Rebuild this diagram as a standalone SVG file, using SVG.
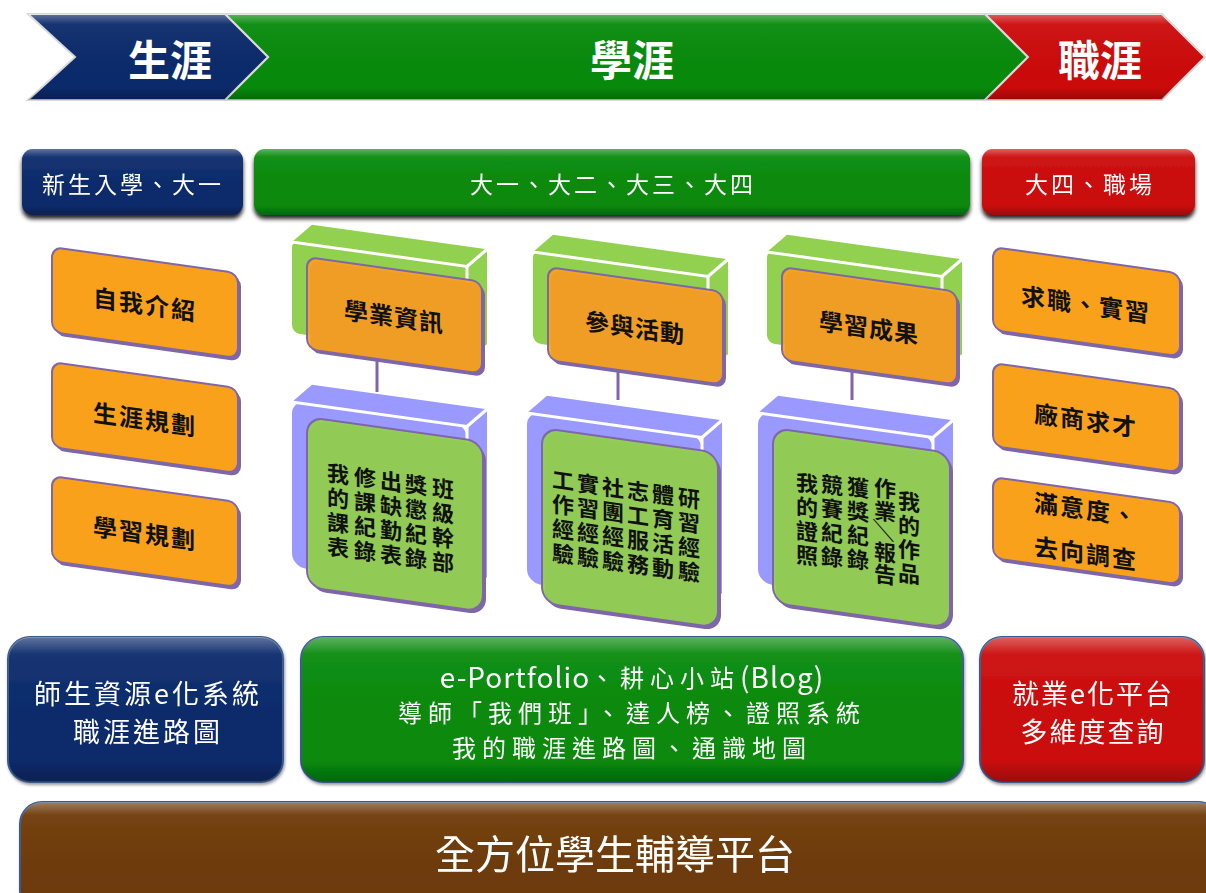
<svg xmlns="http://www.w3.org/2000/svg" width="1206" height="893" viewBox="0 0 1206 893">
<defs>
  <style>
    .t { font-family: "Noto Sans CJK TC", "Noto Sans", sans-serif; }
    .w { fill: #ffffff; }
    .k { fill: #111111; font-weight: bold; }
    .c { text-anchor: middle; dominant-baseline: central; }
    .orange { fill: #f9a11b; stroke: #7f66a8; stroke-width: 2; }
    .pur { fill: #7f66a8; }
    .lg { fill: #92d050; }
    .lb { fill: #9999ff; }
    .gfront { fill: #92d050; stroke: #7f66a8; stroke-width: 2; }
    .edge { fill: none; stroke: #ffffff; stroke-width: 3; }
    .conn { stroke: #7f66a8; stroke-width: 3; fill: none; }
  </style>
  <linearGradient id="gloss" x1="0" y1="0" x2="0" y2="1">
    <stop offset="0" stop-color="#ffffff" stop-opacity="0.35"/>
    <stop offset="0.12" stop-color="#ffffff" stop-opacity="0.05"/>
    <stop offset="0.85" stop-color="#000000" stop-opacity="0"/>
    <stop offset="1" stop-color="#000000" stop-opacity="0.25"/>
  </linearGradient>
  <filter id="sh" x="-10%" y="-20%" width="120%" height="160%">
    <feDropShadow dx="0" dy="4" stdDeviation="2" flood-color="#000" flood-opacity="0.85"/>
  </filter>
  <filter id="sh2" x="-10%" y="-20%" width="120%" height="150%">
    <feDropShadow dx="1" dy="2" stdDeviation="1.5" flood-color="#000" flood-opacity="0.4"/>
  </filter>
</defs>
<rect width="1206" height="893" fill="#ffffff"/>

<!-- Top chevrons -->
<g id="chev-xueya">
  <polygon points="225,14 985,14 1028,57 985,100 225,100 268,57" fill="#078a0b" stroke="#d9d9d9" stroke-width="2"/>
  <polygon points="225,14 985,14 1028,57 985,100 225,100 268,57" fill="url(#gloss)"/>
  <text x="632" y="57" class="t w c" font-size="42" font-weight="bold">學涯</text>
</g>
<g id="chev-shengya">
  <polygon points="28,14 225,14 268,57 225,100 28,100 75,57" fill="#0b2a6b" stroke="#d9d9d9" stroke-width="2"/>
  <polygon points="28,14 225,14 268,57 225,100 28,100 75,57" fill="url(#gloss)"/>
  <text x="170" y="57" class="t w c" font-size="42" font-weight="bold">生涯</text>
</g>
<g id="chev-zhiya">
  <polygon points="985,14 1162,14 1205,57 1162,100 985,100 1028,57" fill="#cc0a0a" stroke="#d9d9d9" stroke-width="2"/>
  <polygon points="985,14 1162,14 1205,57 1162,100 985,100 1028,57" fill="url(#gloss)"/>
  <text x="1100" y="57" class="t w c" font-size="42" font-weight="bold">職涯</text>
</g>

<!-- Row 2 -->
<g id="stage-1" filter="url(#sh)">
  <rect x="22" y="149" width="221" height="66" rx="11" fill="#0b2a6b"/>
  <rect x="22" y="149" width="221" height="66" rx="11" fill="url(#gloss)"/>
  <text x="133" y="183" class="t w c" font-size="23" letter-spacing="3">新生入學、大一</text>
</g>
<g id="stage-2" filter="url(#sh)">
  <rect x="254" y="149" width="716" height="66" rx="11" fill="#078a0b"/>
  <rect x="254" y="149" width="716" height="66" rx="11" fill="url(#gloss)"/>
  <text x="613" y="183" class="t w c" font-size="23" letter-spacing="3">大一、大二、大三、大四</text>
</g>
<g id="stage-3" filter="url(#sh)">
  <rect x="982" y="149" width="213" height="66" rx="11" fill="#cc0a0a"/>
  <rect x="982" y="149" width="213" height="66" rx="11" fill="url(#gloss)"/>
  <text x="1090" y="183" class="t w c" font-size="23" letter-spacing="3">大四、職場</text>
</g>

<!-- Connectors -->
<g id="connectors">
  <line class="conn" x1="377" y1="350" x2="377" y2="392"/>
  <line class="conn" x1="618" y1="360" x2="618" y2="400"/>
  <line class="conn" x1="852" y1="360" x2="852" y2="400"/>
</g>

<!-- Left orange boxes -->
<g id="n-ziwo" transform="translate(52,247) skewY(8)">
  <rect x="3" y="3" width="186" height="85" rx="10" class="pur"/>
  <rect x="0" y="0" width="186" height="85" rx="10" class="orange"/>
  <text x="93" y="43" class="t k c" font-size="24" letter-spacing="2">自我介紹</text>
</g>
<g id="n-shengya" transform="translate(52,362) skewY(8)">
  <rect x="3" y="3" width="186" height="85" rx="10" class="pur"/>
  <rect x="0" y="0" width="186" height="85" rx="10" class="orange"/>
  <text x="93" y="43" class="t k c" font-size="24" letter-spacing="2">生涯規劃</text>
</g>
<g id="n-xuexi" transform="translate(52,476) skewY(8)">
  <rect x="3" y="3" width="186" height="85" rx="10" class="pur"/>
  <rect x="0" y="0" width="186" height="85" rx="10" class="orange"/>
  <text x="93" y="43" class="t k c" font-size="24" letter-spacing="2">學習規劃</text>
</g>

<!-- Right orange boxes -->
<g id="n-qiuzhi" transform="translate(993,247) skewY(8)">
  <rect x="3" y="3" width="187" height="83" rx="10" class="pur"/>
  <rect x="0" y="0" width="187" height="83" rx="10" class="orange"/>
  <text x="93" y="43" class="t k c" font-size="24" letter-spacing="2">求職、實習</text>
</g>
<g id="n-changshang" transform="translate(993,363) skewY(8)">
  <rect x="3" y="3" width="187" height="83" rx="10" class="pur"/>
  <rect x="0" y="0" width="187" height="83" rx="10" class="orange"/>
  <text x="93" y="43" class="t k c" font-size="24" letter-spacing="2">廠商求才</text>
</g>
<g id="n-manyi" transform="translate(993,477) skewY(8)">
  <rect x="3" y="3" width="187" height="81" rx="10" class="pur"/>
  <rect x="0" y="0" width="187" height="81" rx="10" class="orange"/>
  <text x="93" y="18" class="t k c" font-size="24" letter-spacing="2">滿意度、</text>
  <text x="93" y="62" class="t k c" font-size="24" letter-spacing="2">去向調查</text>
</g>

<!-- Column 1: 學業資訊 -->
<g id="n-xueye" transform="translate(307,257) skewY(8)">
  <polygon points="-15,-13 5,-33 180,-33 160,-13" class="lg"/>
  <polygon points="160,-13 180,-33 180,62 160,78" class="lg"/>
  <rect x="-15" y="-15" width="175" height="93" rx="8" class="lg"/>
  <polyline points="-15,-13 160,-13 180,-33" class="edge"/>
  <line x1="160" y1="-13" x2="160" y2="20" class="edge"/>
  <rect x="3" y="3" width="175" height="92" rx="10" class="pur"/>
  <rect x="0" y="0" width="175" height="92" rx="10" class="orange" fill-opacity="0.93"/>
  <text x="87" y="46" class="t k c" font-size="24" letter-spacing="1">學業資訊</text>
</g>
<g id="n-xueye-items" transform="translate(307,417) skewY(8)">
  <polygon points="-15,-13 5,-33 180,-33 160,-13" class="lb"/>
  <polygon points="160,-13 180,-33 180,135 160,152" class="lb"/>
  <rect x="-15" y="-15" width="175" height="167" rx="14" class="lb"/>
  <polyline points="-15,-13 160,-13 180,-33" class="edge"/>
  <line x1="160" y1="-13" x2="160" y2="20" class="edge"/>
  <rect x="3" y="3" width="176" height="170" rx="16" class="pur"/>
  <rect x="0" y="0" width="176" height="170" rx="16" class="gfront" fill-opacity="0.95"/>
  <g class="t k c" font-size="22">
    <text><tspan x="31" y="51">我</tspan><tspan x="31" y="75.5">的</tspan><tspan x="31" y="100">課</tspan><tspan x="31" y="124.5">表</tspan></text>
    <text><tspan x="58" y="51">修</tspan><tspan x="58" y="75.5">課</tspan><tspan x="58" y="100">紀</tspan><tspan x="58" y="124.5">錄</tspan></text>
    <text><tspan x="84" y="51">出</tspan><tspan x="84" y="75.5">缺</tspan><tspan x="84" y="100">勤</tspan><tspan x="84" y="124.5">表</tspan></text>
    <text><tspan x="109" y="51">獎</tspan><tspan x="109" y="75.5">懲</tspan><tspan x="109" y="100">紀</tspan><tspan x="109" y="124.5">錄</tspan></text>
    <text><tspan x="136" y="51">班</tspan><tspan x="136" y="75.5">級</tspan><tspan x="136" y="100">幹</tspan><tspan x="136" y="124.5">部</tspan></text>
  </g>
</g>

<!-- Column 2: 參與活動 -->
<g id="n-canyu" transform="translate(548,267) skewY(8)">
  <polygon points="-15,-13 5,-33 180,-33 160,-13" class="lg"/>
  <polygon points="160,-13 180,-33 180,62 160,78" class="lg"/>
  <rect x="-15" y="-15" width="175" height="93" rx="8" class="lg"/>
  <polyline points="-15,-13 160,-13 180,-33" class="edge"/>
  <line x1="160" y1="-13" x2="160" y2="20" class="edge"/>
  <rect x="3" y="3" width="175" height="93" rx="10" class="pur"/>
  <rect x="0" y="0" width="175" height="93" rx="10" class="orange" fill-opacity="0.93"/>
  <text x="87" y="47" class="t k c" font-size="24" letter-spacing="1">參與活動</text>
</g>
<g id="n-canyu-items" transform="translate(542,428) skewY(8)">
  <polygon points="-15,-13 5,-33 180,-33 160,-13" class="lb"/>
  <polygon points="160,-13 180,-33 180,140 160,157" class="lb"/>
  <rect x="-15" y="-15" width="175" height="172" rx="14" class="lb"/>
  <polyline points="-15,-13 160,-13 180,-33" class="edge"/>
  <line x1="160" y1="-13" x2="160" y2="20" class="edge"/>
  <rect x="3" y="3" width="176" height="175" rx="16" class="pur"/>
  <rect x="0" y="0" width="176" height="175" rx="16" class="gfront" fill-opacity="0.95"/>
  <g class="t k c" font-size="22">
    <text><tspan x="21" y="48">工</tspan><tspan x="21" y="72.5">作</tspan><tspan x="21" y="97">經</tspan><tspan x="21" y="121.5">驗</tspan></text>
    <text><tspan x="46" y="48">實</tspan><tspan x="46" y="72.5">習</tspan><tspan x="46" y="97">經</tspan><tspan x="46" y="121.5">驗</tspan></text>
    <text><tspan x="71" y="48">社</tspan><tspan x="71" y="72.5">團</tspan><tspan x="71" y="97">經</tspan><tspan x="71" y="121.5">驗</tspan></text>
    <text><tspan x="96" y="48">志</tspan><tspan x="96" y="72.5">工</tspan><tspan x="96" y="97">服</tspan><tspan x="96" y="121.5">務</tspan></text>
    <text><tspan x="121" y="48">體</tspan><tspan x="121" y="72.5">育</tspan><tspan x="121" y="97">活</tspan><tspan x="121" y="121.5">動</tspan></text>
    <text><tspan x="147" y="48">研</tspan><tspan x="147" y="72.5">習</tspan><tspan x="147" y="97">經</tspan><tspan x="147" y="121.5">驗</tspan></text>
  </g>
</g>

<!-- Column 3: 學習成果 -->
<g id="n-chengguo" transform="translate(782,267) skewY(8)">
  <polygon points="-15,-13 5,-33 180,-33 160,-13" class="lg"/>
  <polygon points="160,-13 180,-33 180,62 160,78" class="lg"/>
  <rect x="-15" y="-15" width="175" height="93" rx="8" class="lg"/>
  <polyline points="-15,-13 160,-13 180,-33" class="edge"/>
  <line x1="160" y1="-13" x2="160" y2="20" class="edge"/>
  <rect x="3" y="3" width="175" height="93" rx="10" class="pur"/>
  <rect x="0" y="0" width="175" height="93" rx="10" class="orange" fill-opacity="0.93"/>
  <text x="87" y="47" class="t k c" font-size="24" letter-spacing="1">學習成果</text>
</g>
<g id="n-chengguo-items" transform="translate(773,428) skewY(8)">
  <polygon points="-15,-13 5,-33 180,-33 160,-13" class="lb"/>
  <polygon points="160,-13 180,-33 180,140 160,157" class="lb"/>
  <rect x="-15" y="-15" width="175" height="172" rx="14" class="lb"/>
  <polyline points="-15,-13 160,-13 180,-33" class="edge"/>
  <line x1="160" y1="-13" x2="160" y2="20" class="edge"/>
  <rect x="3" y="3" width="177" height="175" rx="16" class="pur"/>
  <rect x="0" y="0" width="177" height="175" rx="16" class="gfront" fill-opacity="0.95"/>
  <g class="t k c" font-size="22">
    <text><tspan x="34" y="49">我</tspan><tspan x="34" y="73">的</tspan><tspan x="34" y="97">證</tspan><tspan x="34" y="121">照</tspan></text>
    <text><tspan x="59" y="47">競</tspan><tspan x="59" y="71">賽</tspan><tspan x="59" y="95">紀</tspan><tspan x="59" y="119">錄</tspan></text>
    <text><tspan x="85" y="46">獲</tspan><tspan x="85" y="70">獎</tspan><tspan x="85" y="94">紀</tspan><tspan x="85" y="118">錄</tspan></text>
    <text><tspan x="112" y="43">作</tspan><tspan x="112" y="66">業</tspan><tspan x="112" y="107">報</tspan><tspan x="112" y="129">告</tspan></text>
    <text x="112" y="87" transform="rotate(90 112 87)">／</text>
    <text><tspan x="136" y="53">我</tspan><tspan x="136" y="77">的</tspan><tspan x="136" y="101">作</tspan><tspan x="136" y="125">品</tspan></text>
  </g>
</g>

<!-- Bottom platforms -->
<g id="sys-1" filter="url(#sh2)">
  <rect x="8" y="637" width="275" height="145" rx="22" fill="#0b2a6b" stroke="#3a5a8c" stroke-width="2"/>
  <rect x="8" y="637" width="275" height="145" rx="22" fill="url(#gloss)"/>
  <text x="148" y="692" class="t w c" font-size="27" letter-spacing="3">師生資源e化系統</text>
  <text x="148" y="730" class="t w c" font-size="27" letter-spacing="3">職涯進路圖</text>
</g>
<g id="sys-2" filter="url(#sh2)">
  <rect x="301" y="637" width="662" height="145" rx="22" fill="#078a0b" stroke="#3a5a8c" stroke-width="2"/>
  <rect x="301" y="637" width="662" height="145" rx="22" fill="url(#gloss)"/>
  <text x="632" y="676" class="t w c" font-size="24"><tspan font-size="28" letter-spacing="1">e-Portfolio</tspan><tspan letter-spacing="6">、耕心小站</tspan><tspan font-size="28" letter-spacing="1">(Blog)</tspan></text>
  <text x="632" y="711" class="t w c" font-size="24" letter-spacing="6">導師「我們班」、達人榜、證照系統</text>
  <text x="632" y="746" class="t w c" font-size="24" letter-spacing="6">我的職涯進路圖、通識地圖</text>
</g>
<g id="sys-3" filter="url(#sh2)">
  <rect x="980" y="637" width="224" height="145" rx="22" fill="#cc0a0a" stroke="#3a5a8c" stroke-width="2"/>
  <rect x="980" y="637" width="224" height="145" rx="22" fill="url(#gloss)"/>
  <text x="1093" y="692" class="t w c" font-size="27" letter-spacing="2">就業e化平台</text>
  <text x="1093" y="730" class="t w c" font-size="27" letter-spacing="2">多維度查詢</text>
</g>
<g id="platform" filter="url(#sh2)">
  <rect x="20" y="802" width="1200" height="110" rx="22" fill="#6e3a08" stroke="#3a5a8c" stroke-width="2"/>
  <rect x="20" y="802" width="1200" height="110" rx="22" fill="url(#gloss)"/>
  <text x="615" y="852" class="t w c" font-size="40">全方位學生輔導平台</text>
</g>
</svg>
